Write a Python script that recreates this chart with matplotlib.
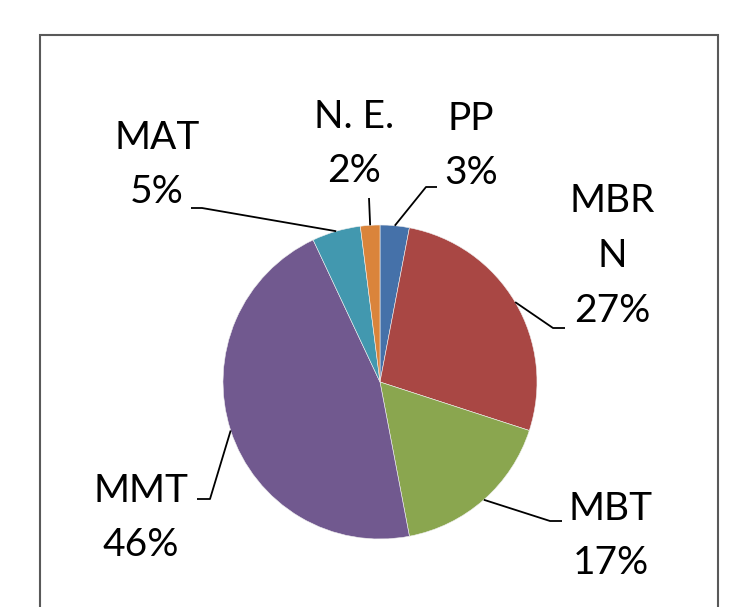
import numpy as np
import matplotlib
matplotlib.use("Agg")
import matplotlib.pyplot as plt
from matplotlib.patches import Rectangle

# data, clockwise from 12 o'clock
labels = ["PP", "MBR\nN", "MBT", "MMT", "MAT", "N. E."]
values = [3, 27, 17, 46, 5, 2]
colors = ["#4571A9", "#A94744", "#8AA64F", "#71598F", "#4298AF", "#DA843B"]

W, H = 734, 607
plt.rcParams['font.family'] = ['Lato', 'DejaVu Sans']

fig = plt.figure(figsize=(W / 100, H / 100), dpi=100)
ax = fig.add_axes([0, 0, 1, 1])


def py(y):
    # pixel row -> data y
    return H - y


cx, cy, r = 380, py(382), 157
wedges, _ = ax.pie(values, colors=colors, startangle=90, counterclock=False,
                   radius=r, center=(cx, cy), frame=True,
                   wedgeprops=dict(linewidth=0.4, edgecolor='#f0f0f0'))
ax.set_xlim(0, W)
ax.set_ylim(0, H)
ax.set_aspect('equal')
ax.axis('off')

# label centre and leader elbow / end, in pixels
label_pos = [(471, 146), (612, 256), (611, 536), (141, 518), (157, 165), (354, 144)]
elbows = [[(426, 187), (437, 187)],
          [(553, 328), (565, 328)],
          [(550, 521), (562, 521)],
          [(210, 499), (197, 499)],
          [(202, 208), (191, 208)],
          [(369, 198)]]

for w, lab, v, (tx, ty), el in zip(wedges, labels, values, label_pos, elbows):
    ang = np.deg2rad((w.theta1 + w.theta2) / 2)
    x0 = cx + r * np.cos(ang)
    y0 = cy + r * np.sin(ang)
    xs = [x0] + [p[0] for p in el]
    ys = [y0] + [py(p[1]) for p in el]
    ax.plot(xs, ys, color='black', lw=1.3, solid_capstyle='butt')
    ax.text(tx, py(ty), "%s\n%d%%" % (lab, v), ha='center', va='center',
            multialignment='center', fontsize=28, linespacing=1.65, color='black')

ax.add_patch(Rectangle((40, -20), 678, py(35) + 20, fill=False,
                       edgecolor='#595959', lw=1.5, clip_on=False))

fig.savefig("out.png", dpi=100)
